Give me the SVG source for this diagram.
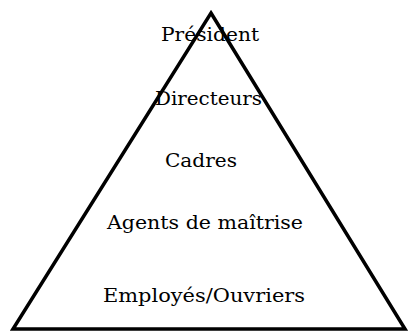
<svg xmlns="http://www.w3.org/2000/svg" width="408" height="331" viewBox="0 0 408 331">
<style>
text{font-family:"DejaVu Serif","Liberation Serif",serif;font-size:19px;fill:#000;}
</style>
<rect width="408" height="331" fill="#fff"/>
<g id="labels">
<text id="president" x="161" y="41" textLength="98" lengthAdjust="spacingAndGlyphs">Président</text>
<text id="directeurs" x="155" y="105" textLength="107" lengthAdjust="spacingAndGlyphs">Directeurs</text>
<text id="cadres" x="165" y="167" textLength="72" lengthAdjust="spacingAndGlyphs">Cadres</text>
<text id="agents" x="107" y="229" textLength="196" lengthAdjust="spacingAndGlyphs">Agents de maîtrise</text>
<text id="employes" x="103" y="302" textLength="202" lengthAdjust="spacingAndGlyphs">Employés/Ouvriers</text>
</g>
<g id="pyramid">
<polygon points="211,13 405,329 13,329" fill="none" stroke="#000" stroke-width="3.5" stroke-linejoin="miter"/>
</g>
</svg>
